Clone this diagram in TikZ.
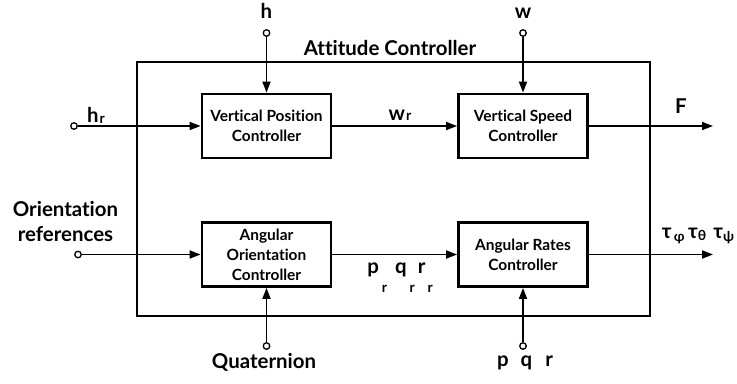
\documentclass[tikz,border=0pt]{standalone}
\usepackage{fontspec}
\setmainfont{Lato}[Ligatures={NoCommon}]
\usepackage{tikz}
\usetikzlibrary{arrows.meta,positioning}

% small subscript, lowered by #1
\newcommand{\lsub}[2]{\raisebox{-#1}{\fontsize{14}{14}\selectfont #2}}

\begin{document}
\begin{tikzpicture}[x=1bp, y=-1bp, >={Triangle[length=11bp,width=8bp]},
  ctrl/.style={draw, line width=2.8bp, minimum width=129bp, minimum height=64bp,
    align=center, inner sep=0pt, font=\fontsize{15.5}{20}\selectfont\bfseries},
  port/.style={circle, draw, fill=white, line width=1.3bp, minimum size=6.5bp, inner sep=0pt},
  lbl/.style={font=\fontsize{20.5}{24.5}\selectfont\bfseries, inner sep=0pt, anchor=base, align=center},
  sig/.style={->, line width=1.8bp}]

  \useasboundingbox (0,0) rectangle (737,383);

  % Outer block
  \node[draw, line width=1.4bp, minimum width=513bp, minimum height=254bp] (att) at (393.5,189) {};
  \node[lbl] (title) at (390,55) {Attitude Controller};

  % Controllers
  \node[ctrl] (vpc) at (266.5,126) {Vertical Position\\Controller};
  \node[ctrl] (vsc) at (523,126) {Vertical Speed\\Controller};
  \node[ctrl] (aoc) at (266.5,254.5) {Angular\\Orientation\\Controller};
  \node[ctrl] (arc) at (523,254.5) {Angular Rates\\Controller};

  % Input ports
  \node[port] (hin) at (266.5,33) {};
  \node[port] (win) at (523,33) {};
  \node[port] (hrin) at (74,126) {};
  \node[port] (orin) at (78,254.5) {};
  \node[port] (quat) at (266.5,346) {};
  \node[port] (pqrin) at (523,346) {};

  % Output ends
  \coordinate (Fout) at (713,126);
  \coordinate (tauout) at (713,254.5);

  % Labels
  \node[lbl] (hlab) at (266.5,18) {h};
  \node[lbl] (wlab) at (523,18) {w};
  \node[lbl] (hrlab) at (96,122) {h\lsub{1bp}{\kern1bp r}};
  \node[lbl] (wrlab) at (400,120) {w\lsub{0.5bp}{\kern1bp r}};
  \node[lbl] (orlab) at (65.5,241) {Orientation\\references};
  \node[lbl] (qlab) at (264,368) {Quaternion};
  \node[lbl] (pqrlab) at (525,366) {p\hspace{12bp}q\hspace{13bp}r};
  \node[lbl] (Flab) at (681,113) {F};
  \node[lbl] (taulab) at (698,238) {τ\lsub{3bp}{\,φ}\,τ\lsub{2bp}{θ}\hspace{7bp}τ\lsub{3bp}{ψ}};
  \node[lbl] (pqrref) at (400,273) {p\lsub{19bp}{\hspace{3bp}r}\hspace{8bp}q\lsub{19bp}{\hspace{3bp}r}\hspace{3bp}r\lsub{19bp}{\hspace{2bp}r}};

  % Draw arrows between nodes
  \draw[sig] (hin) -- (vpc);
  \draw[sig] (win) -- (vsc);
  \draw[sig] (hrin) -- (vpc);
  \draw[sig] (orin) -- (aoc);
  \draw[sig] (quat) -- (aoc);
  \draw[sig] (pqrin) -- (arc);
  \draw[sig] (vpc) -- (vsc);
  \draw[sig] (aoc) -- (arc);
  \draw[sig] (vsc) -- (Fout);
  \draw[sig] (arc) -- (tauout);
\end{tikzpicture}
\end{document}
